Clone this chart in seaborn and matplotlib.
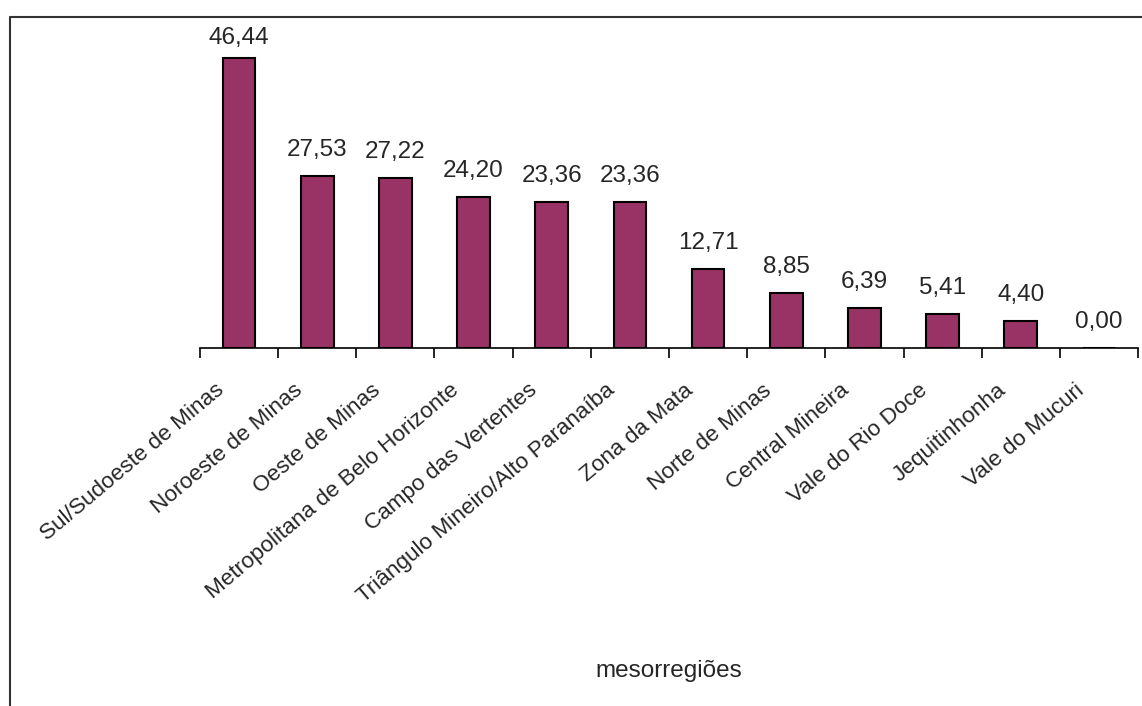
import matplotlib
matplotlib.use("Agg")
import matplotlib.pyplot as plt
from matplotlib.lines import Line2D
from matplotlib.transforms import ScaledTranslation
import seaborn as sns
import pandas as pd

regioes = [
    "Sul/Sudoeste de Minas", "Noroeste de Minas", "Oeste de Minas",
    "Metropolitana de Belo Horizonte", "Campo das Vertentes",
    "Triângulo Mineiro/Alto Paranaíba", "Zona da Mata", "Norte de Minas",
    "Central Mineira", "Vale do Rio Doce", "Jequitinhonha", "Vale do Mucuri",
]
valores = [46.44, 27.53, 27.22, 24.20, 23.36, 23.36, 12.71, 8.85, 6.39, 5.41, 4.40, 0.00]

df = pd.DataFrame({"mesorregiao": regioes, "valor": valores})

sns.set_style("white")
plt.rcParams["font.family"] = ["Liberation Sans", "DejaVu Sans"]

W, H = 1142, 706
DPI = 100
FS = 17.5
FS_TICK = 16.2
fig = plt.figure(figsize=(W / DPI, H / DPI), dpi=DPI)
ax = fig.add_axes([200 / W, 1 - 348 / H, 938 / W, (348 - 36) / H])

sns.barplot(data=df, x="mesorregiao", y="valor", color="#993366",
            width=0.42, edgecolor="black", linewidth=1.5, saturation=1, ax=ax)

ax.set_xlim(-0.5, len(regioes) - 0.5)
ax.set_ylim(0, 50)

# value labels: 20 px above the bar, but kept below the chart's upper margin
top_limit_px = H - 44
for i, v in enumerate(valores):
    bar_top_px = ax.transData.transform((i, v))[1]
    gap_px = min(20, top_limit_px - bar_top_px)
    ax.annotate(f"{v:.2f}".replace(".", ","), (i, v),
                xytext=(0, gap_px * 72 / DPI), textcoords="offset points",
                ha="center", va="baseline", fontsize=FS)

for s in ["top", "right", "left"]:
    ax.spines[s].set_visible(False)
ax.spines["bottom"].set_color("black")
ax.spines["bottom"].set_linewidth(1.2)
ax.set_yticks([])
ax.set_ylabel("")
ax.set_xlabel("")

# category boundaries carry the tick marks, labels sit at the centres
ax.set_xticks([i - 0.5 for i in range(len(regioes) + 1)], minor=True)
ax.tick_params(axis="x", which="minor", length=7, width=1.2, color="black",
               direction="out", bottom=True)
ax.tick_params(axis="x", which="major", length=0, pad=0)
ax.set_xticks(range(len(regioes)))
ax.set_xticklabels(regioes, rotation=40, ha="right", va="baseline",
                   rotation_mode="anchor", fontsize=FS_TICK)
shift = ScaledTranslation(-14 / DPI, -44 / DPI, fig.dpi_scale_trans)
for lab in ax.get_xticklabels():
    lab.set_transform(lab.get_transform() + shift)

fig.text(669 / W, 1 - 677 / H, "mesorregiões", ha="center", va="baseline",
         fontsize=FS)

# chart frame
fig.add_artist(Line2D([10 / W, 10 / W, 1.01], [-0.01, 1 - 17 / H, 1 - 17 / H],
                      transform=fig.transFigure, color="#333333", lw=1.5))

fig.savefig("out.png", dpi=DPI)
